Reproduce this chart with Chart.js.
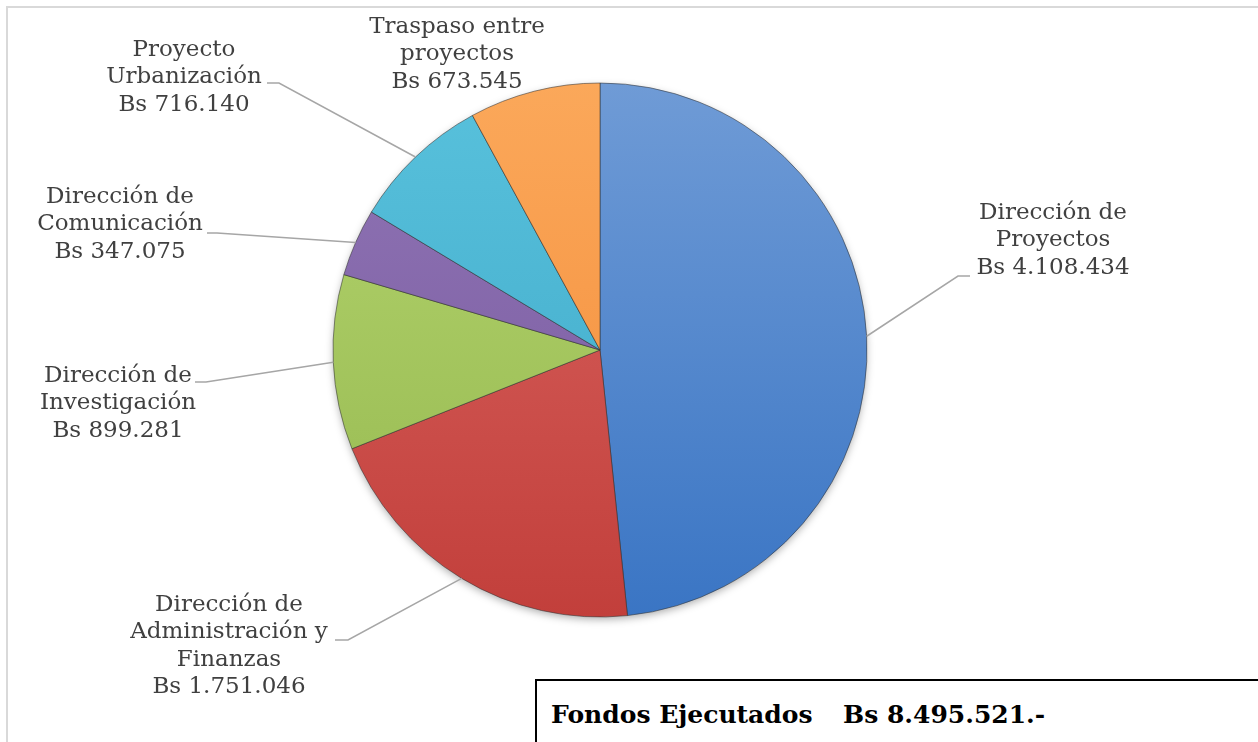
<!DOCTYPE html>
<html lang="es">
<head>
<meta charset="utf-8">
<title>Fondos Ejecutados</title>
<script src="https://cdn.jsdelivr.net/npm/chart.js@4.4.1/dist/chart.umd.min.js"></script>
<style>
    html, body { margin: 0; padding: 0; background: #ffffff; }
    #wrap { position: relative; width: 1258px; height: 742px; overflow: hidden; }
    #frame {
        position: absolute; left: 6px; top: 6px; width: 1400px; height: 900px;
        border-top: 2px solid #d9d9d9; border-left: 2px solid #d9d9d9;
    }
    #pie { position: absolute; left: 0; top: 0; }
    #total {
        position: absolute; left: 535px; top: 679px; width: 900px; height: 120px;
        border: 2px solid #000; background: #fff;
        font-family: "DejaVu Serif", serif; font-weight: bold; font-size: 25px; color: #000;
    }
    #total span { position: absolute; top: 19px; white-space: nowrap; }
</style>
</head>
<body>
<div id="wrap">
    <div id="frame"></div>
    <canvas id="pie" width="1258" height="742"></canvas>
    <div id="total">
        <span id="total-label" style="left:14px">Fondos Ejecutados</span>
        <span id="total-value" style="left:306px"></span>
    </div>
</div>
<script>
// --- Data ---
const categories = [
    'Dirección de\nProyectos',
    'Dirección de\nAdministración y\nFinanzas',
    'Dirección de\nInvestigación',
    'Dirección de\nComunicación',
    'Proyecto\nUrbanización',
    'Traspaso entre\nproyectos'
];
const values = [4108434, 1751046, 899281, 347075, 716140, 673545];
const currency = 'Bs';

// --- Styles ---
// [top, bottom] gradient stops per slice
const sliceColors = [
    ['#6f9bd6', '#3a75c4'],
    ['#da6662', '#c23f3b'],
    ['#b4d46e', '#95b84f'],
    ['#9075b5', '#77589e'],
    ['#58c1dc', '#3ea7c7'],
    ['#fba85a', '#f38b38']
];

// label placement: text centre x, first line y, leader elbow and end (null = no leader)
const labelLayout = [
    { x: 1053, y: 213, elbow: [958, 276], end: [970, 276] },
    { x: 229, y: 605, elbow: [348, 640], end: [335, 640] },
    { x: 118, y: 376, elbow: [206, 382], end: [195, 382] },
    { x: 120, y: 197, elbow: [217, 233], end: [207, 233] },
    { x: 184, y: 50, elbow: [279, 83], end: [267, 83] },
    { x: 457, y: 27, elbow: null, end: null }
];
const LINE_H = 27.5;
const PIE_RADIUS = 267;

function formatBs(n) {
    return String(n).replace(/\B(?=(\d{3})+(?!\d))/g, '.');
}

const total = values.reduce((a, b) => a + b, 0);
document.getElementById('total-value').textContent = `${currency} ${formatBs(total)}.-`;

// Soft shadow under the pie
const pieShadow = {
    id: 'pieShadow',
    beforeDatasetsDraw(chart) {
        const arc = chart.getDatasetMeta(0).data[0];
        if (!arc) return;
        const ctx = chart.ctx;
        ctx.save();
        ctx.shadowColor = 'rgba(0,0,0,0.35)';
        ctx.shadowBlur = 9;
        ctx.shadowOffsetY = 3;
        ctx.fillStyle = '#8a8a8a';
        ctx.beginPath();
        ctx.arc(arc.x, arc.y, arc.outerRadius - 1, 0, Math.PI * 2);
        ctx.fill();
        ctx.restore();
    }
};

// Labels with leader lines
const pieLabels = {
    id: 'pieLabels',
    afterDatasetsDraw(chart) {
        const ctx = chart.ctx;
        const arcs = chart.getDatasetMeta(0).data;
        ctx.save();
        arcs.forEach((arc, i) => {
            const lay = labelLayout[i];
            if (lay.elbow) {
                const mid = (arc.startAngle + arc.endAngle) / 2;
                const ex = arc.x + Math.cos(mid) * arc.outerRadius;
                const ey = arc.y + Math.sin(mid) * arc.outerRadius;
                ctx.strokeStyle = '#a6a6a6';
                ctx.lineWidth = 1.5;
                ctx.beginPath();
                ctx.moveTo(ex, ey);
                ctx.lineTo(lay.elbow[0], lay.elbow[1]);
                ctx.lineTo(lay.end[0], lay.end[1]);
                ctx.stroke();
            }
            const lines = categories[i].split('\n').concat(`${currency} ${formatBs(values[i])}`);
            ctx.fillStyle = '#404040';
            ctx.font = '23px "DejaVu Serif", serif';
            ctx.textAlign = 'center';
            ctx.textBaseline = 'middle';
            lines.forEach((t, k) => ctx.fillText(t, lay.x, lay.y + k * LINE_H));
        });
        ctx.restore();
    }
};

new Chart(document.getElementById('pie'), {
    type: 'pie',
    data: {
        labels: categories,
        datasets: [{
            data: values,
            radius: PIE_RADIUS,
            backgroundColor: (context) => {
                const chart = context.chart;
                const stops = sliceColors[context.dataIndex];
                const area = chart.chartArea;
                if (!area) return stops[0];
                const cy = (area.top + area.bottom) / 2;
                const g = chart.ctx.createLinearGradient(0, cy - PIE_RADIUS, 0, cy + PIE_RADIUS);
                g.addColorStop(0, stops[0]);
                g.addColorStop(1, stops[1]);
                return g;
            },
            borderColor: 'rgba(50,50,50,0.55)',
            borderWidth: 1
        }]
    },
    options: {
        responsive: false,
        animation: false,
        layout: { padding: { left: 0, right: 58, top: 0, bottom: 42 } },
        plugins: {
            legend: { display: false },
            tooltip: { enabled: false }
        }
    },
    plugins: [pieShadow, pieLabels]
});
</script>
</body>
</html>
